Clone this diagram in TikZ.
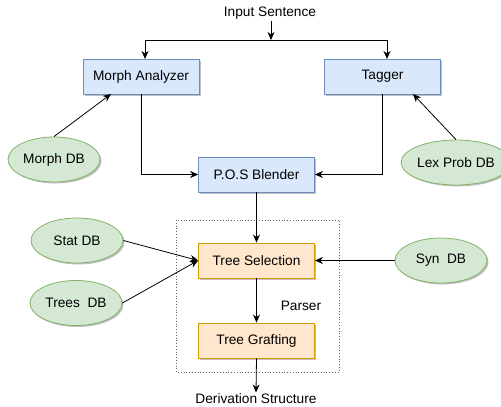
\documentclass[tikz,border=0pt]{standalone}
\usepackage{fontspec}
\setmainfont{Liberation Sans}
\usetikzlibrary{arrows.meta,shadows,shapes.geometric}
\definecolor{bfill}{HTML}{DAE8FC}\definecolor{bdraw}{HTML}{6C8EBF}
\definecolor{ofill}{HTML}{FFE6CC}\definecolor{odraw}{HTML}{D79B00}
\definecolor{gfill}{HTML}{D5E8D4}\definecolor{gdraw}{HTML}{82B366}
\tikzset{
  shad/.style={drop shadow={shadow xshift=1.5pt,shadow yshift=-1.5pt,opacity=0.25,fill=black}},
  txt/.style={font=\fontsize{13.7}{16}\selectfont},
  bluebox/.style={draw=bdraw,fill=bfill,line width=0.8pt,minimum width=116pt,minimum height=35pt,inner sep=0pt,txt,shad},
  orangebox/.style={draw=odraw,fill=ofill,line width=0.8pt,minimum width=116pt,minimum height=35pt,inner sep=0pt,txt,shad},
  db/.style={ellipse,draw=gdraw,fill=gfill,line width=0.8pt,minimum width=92pt,minimum height=45pt,inner sep=0pt,txt,shad},
  lbl/.style={inner sep=1pt,txt},
  arr/.style={-{Stealth[length=8pt,width=7pt,inset=2.5pt]},line width=0.8pt},
}
\begin{document}
\begin{tikzpicture}[x=1pt,y=-1pt]
\useasboundingbox (0,0) rectangle (501,407);
\node[lbl] (inp) at (270,13) {Input Sentence};
\node[bluebox] (ma) at (141,76.5) {Morph Analyzer};
\node[bluebox] (tag) at (382.5,76.5) {Tagger};
\node[bluebox] (pos) at (256.5,174.5) {P.O.S Blender};
\node[db] (mdb) at (54,159.5) {Morph DB};
\node[db] (ldb) at (456,162.5) {Lex Prob DB};
\draw[dotted,gray!80!black,line width=0.8pt] (176,220) rectangle (339,372);
\node[orangebox] (ts) at (256.5,260.5) {Tree Selection};
\node[orangebox] (tg) at (256.5,340.5) {Tree Grafting};
\node[lbl] (par) at (301,306) {Parser};
\node[db] (sdb) at (77,240.5) {Stat DB};
\node[db] (tdb) at (76,303) {Trees\ \ DB};
\node[db] (ydb) at (441,260.5) {Syn\ \ DB};
\node[lbl,anchor=north] (der) at (256,392.5) {Derivation Structure};
\coordinate (split) at (271,40);
\draw[arr] (271,21) -- (split);
\draw[line width=0.8pt] (145,40) -- (387,40);
\draw[arr] (145,40) -- (145,59);
\draw[arr] (387,40) -- (387,59);
\draw[arr] (mdb.north) -- (111,94);
\draw[arr] (ldb.north) -- (413,94);
\draw[arr] (ma.south) |- (pos.west);
\draw[arr] (tag.south) |- (pos.east);
\draw[arr] (pos.south) -- (ts.north);
\draw[arr] (sdb.east) -- (ts.west);
\draw[arr] (tdb.east) -- (ts.west);
\draw[arr] (ydb.west) -- (ts.east);
\draw[arr] (ts.south) -- (tg.north);
\draw[arr] (tg.south) -- (der.north);
\end{tikzpicture}
\end{document}
